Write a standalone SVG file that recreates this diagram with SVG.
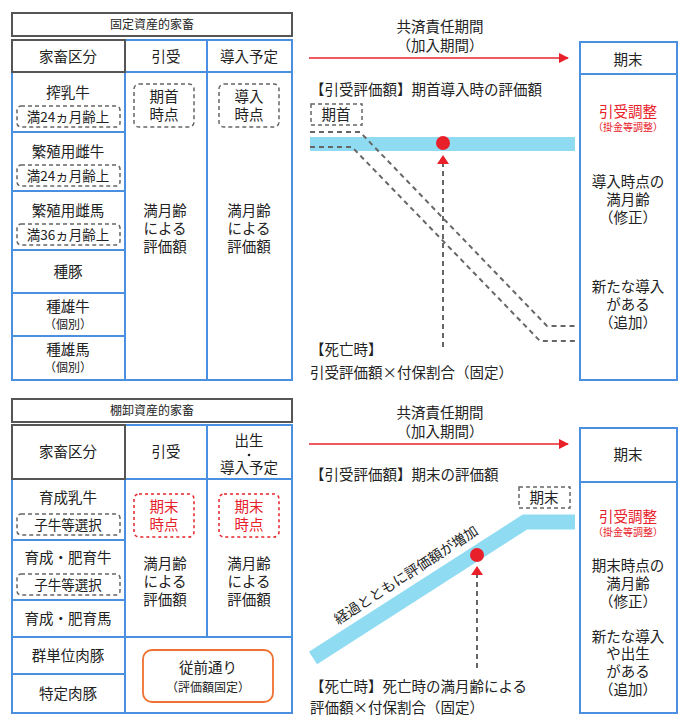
<svg xmlns="http://www.w3.org/2000/svg" width="690" height="725" viewBox="0 0 690 725">
<style>
text{font-family:"Noto Sans CJK JP","Noto Sans CJK SC",sans-serif;fill:#222;text-anchor:middle;font-size:14.5px}
.s{font-size:12px}.xs{font-size:10px}.l{text-anchor:start}.r{fill:#e8202a}.m{font-size:13.5px}
.bl{fill:none;stroke:#4a8fe0;stroke-width:2}
.gr{fill:none;stroke:#555;stroke-width:2}
.gd{fill:none;stroke:#666;stroke-width:1.5;stroke-dasharray:4 3}
.rd{fill:none;stroke:#e8202a;stroke-width:1.5;stroke-dasharray:3 3}
.dl{fill:none;stroke:#666;stroke-width:2;stroke-dasharray:5 4}
</style>
<defs><marker id="ar" viewBox="0 0 10 10" refX="9" refY="5" markerWidth="7" markerHeight="7" orient="auto"><path d="M0,0L10,5L0,10z" fill="#e8202a"/></marker></defs>

<g id="table1">
<rect x="12" y="13" width="280" height="23" class="gr"/><text x="152" y="29" class="s">固定資産的家畜</text>
<rect x="12" y="40" width="280" height="340" class="bl"/>
<line x1="125" y1="40" x2="125" y2="380" class="bl"/><line x1="207" y1="40" x2="207" y2="380" class="bl"/>
<line x1="12" y1="72" x2="292" y2="72" class="bl"/>
<line x1="12" y1="132" x2="125" y2="132" class="bl"/><line x1="12" y1="191" x2="125" y2="191" class="bl"/>
<line x1="12" y1="250" x2="125" y2="250" class="bl"/><line x1="12" y1="293" x2="125" y2="293" class="bl"/>
<line x1="12" y1="336" x2="125" y2="336" class="bl"/>
<rect x="12" y="40" width="113" height="32" class="gr"/>
<text x="68" y="62">家畜区分</text><text x="166" y="62">引受</text><text x="249" y="62">導入予定</text>
<text x="68" y="98">搾乳牛</text><rect x="17" y="106" width="103" height="21" rx="4" class="gd"/><text x="68" y="122" class="m">満24ヵ月齢上</text>
<text x="68" y="157">繁殖用雌牛</text><rect x="17" y="165" width="103" height="21" rx="4" class="gd"/><text x="68" y="181" class="m">満24ヵ月齢上</text>
<text x="68" y="216">繁殖用雌馬</text><rect x="17" y="224" width="103" height="21" rx="4" class="gd"/><text x="68" y="240" class="m">満36ヵ月齢上</text>
<text x="68" y="277">種豚</text>
<text x="68" y="312">種雄牛</text><text x="68" y="329" class="s">（個別）</text>
<text x="68" y="355">種雄馬</text><text x="68" y="372" class="s">（個別）</text>
<rect x="134" y="84" width="60" height="43" rx="5" class="gd"/><text x="164" y="102">期首</text><text x="164" y="120">時点</text>
<rect x="219" y="84" width="60" height="43" rx="5" class="gd"/><text x="249" y="102">導入</text><text x="249" y="120">時点</text>
<text x="165" y="216">満月齢</text><text x="165" y="234">による</text><text x="165" y="252">評価額</text>
<text x="249" y="216">満月齢</text><text x="249" y="234">による</text><text x="249" y="252">評価額</text>
</g>

<g id="chart1">
<text x="440" y="32">共済責任期間</text><text x="440" y="51">（加入期間）</text>
<text x="310" y="95" class="l">【引受評価額】期首導入時の評価額</text>
<rect x="311" y="104" width="51" height="21" class="gd"/><text x="336" y="120">期首</text>
<rect x="310" y="137" width="265" height="14" fill="#8fdcf2"/>
<circle cx="443" cy="143" r="7" fill="#e8202a"/>
<text x="310" y="355" class="l">【死亡時】</text><text x="310" y="378" class="l">引受評価額×付保割合（固定）</text>
</g>

<g id="end1">
<rect x="580" y="42" width="97" height="338" class="bl"/><line x1="580" y1="74" x2="677" y2="74" class="bl"/>
<text x="628" y="65">期末</text>
<text x="628" y="117" class="r">引受調整</text><text x="628" y="131" class="xs r">（掛金等調整）</text>
<text x="628" y="187">導入時点の</text><text x="628" y="205">満月齢</text><text x="628" y="223">（修正）</text>
<text x="628" y="292">新たな導入</text><text x="628" y="310">がある</text><text x="628" y="328">（追加）</text>
</g>

<g id="table2">
<rect x="12" y="399" width="280" height="23" class="gr"/><text x="152" y="415" class="s">棚卸資産的家畜</text>
<rect x="12" y="425" width="280" height="288" class="bl"/>
<line x1="125" y1="425" x2="125" y2="713" class="bl"/><line x1="207" y1="425" x2="207" y2="637" class="bl"/>
<line x1="12" y1="479" x2="292" y2="479" class="bl"/>
<line x1="12" y1="540" x2="125" y2="540" class="bl"/><line x1="12" y1="600" x2="125" y2="600" class="bl"/>
<line x1="12" y1="637" x2="292" y2="637" class="bl"/><line x1="12" y1="674" x2="125" y2="674" class="bl"/>
<rect x="12" y="425" width="113" height="54" class="gr"/>
<text x="68" y="457">家畜区分</text><text x="166" y="457">引受</text>
<text x="249" y="446">出生</text><circle cx="249" cy="455" r="1.3" fill="#222"/><text x="249" y="473">導入予定</text>
<text x="68" y="503">育成乳牛</text><rect x="17" y="514" width="103" height="21" rx="4" class="gd"/><text x="68" y="530" class="m">子牛等選択</text>
<text x="68" y="563">育成・肥育牛</text><rect x="17" y="574" width="103" height="21" rx="4" class="gd"/><text x="68" y="590" class="m">子牛等選択</text>
<text x="68" y="624">育成・肥育馬</text>
<text x="68" y="661">群単位肉豚</text><text x="68" y="699">特定肉豚</text>
<rect x="134" y="494" width="60" height="43" rx="5" class="rd"/><text x="164" y="512" class="r">期末</text><text x="164" y="530" class="r">時点</text>
<rect x="219" y="494" width="60" height="43" rx="5" class="rd"/><text x="249" y="512" class="r">期末</text><text x="249" y="530" class="r">時点</text>
<text x="165" y="569">満月齢</text><text x="165" y="587">による</text><text x="165" y="605">評価額</text>
<text x="249" y="569">満月齢</text><text x="249" y="587">による</text><text x="249" y="605">評価額</text>
<rect x="143" y="650" width="130" height="52" rx="9" fill="none" stroke="#f07030" stroke-width="1.8"/>
<text x="208" y="673">従前通り</text><text x="208" y="692" class="s">（評価額固定）</text>
</g>

<g id="chart2">
<text x="440" y="418">共済責任期間</text><text x="440" y="437">（加入期間）</text>
<text x="310" y="480" class="l">【引受評価額】期末の評価額</text>
<rect x="519" y="487" width="51" height="21" class="gd"/><text x="544" y="503">期末</text>
<polyline points="313,658 525,522 575,522" fill="none" stroke="#8fdcf2" stroke-width="15"/>
<text x="406" y="580" transform="rotate(-33 406 575)" style="font-size:14px">経過とともに評価額が増加</text>
<circle cx="477" cy="555" r="7" fill="#e8202a"/>
<text x="310" y="692" class="l">【死亡時】死亡時の満月齢による</text><text x="310" y="713" class="l">評価額×付保割合（固定）</text>
</g>

<g id="end2">
<rect x="580" y="428" width="97" height="285" class="bl"/><line x1="580" y1="482" x2="677" y2="482" class="bl"/>
<text x="628" y="460">期末</text>
<text x="628" y="522" class="r">引受調整</text><text x="628" y="536" class="xs r">（掛金等調整）</text>
<text x="628" y="571">期末時点の</text><text x="628" y="589">満月齢</text><text x="628" y="607">（修正）</text>
<text x="628" y="642">新たな導入</text><text x="628" y="659">や出生</text><text x="628" y="677">がある</text><text x="628" y="695">（追加）</text>
</g>

<g id="connectors">
<line x1="309" y1="58" x2="568" y2="58" stroke="#e8202a" stroke-width="1.5" marker-end="url(#ar)"/>
<line x1="309" y1="444" x2="568" y2="444" stroke="#e8202a" stroke-width="1.5" marker-end="url(#ar)"/>
<polyline points="310,132 360,132 547,326 575,326" class="dl"/>
<polyline points="310,147 352,147 540,341 575,341" class="dl"/>
<line x1="443" y1="347" x2="443" y2="163" class="dl"/><path d="M437,164L443,155L449,164z" fill="#e8202a"/>
<line x1="477" y1="668" x2="477" y2="575" class="dl"/><path d="M471,575L477,566L483,575z" fill="#e8202a"/>
</g>
</svg>
